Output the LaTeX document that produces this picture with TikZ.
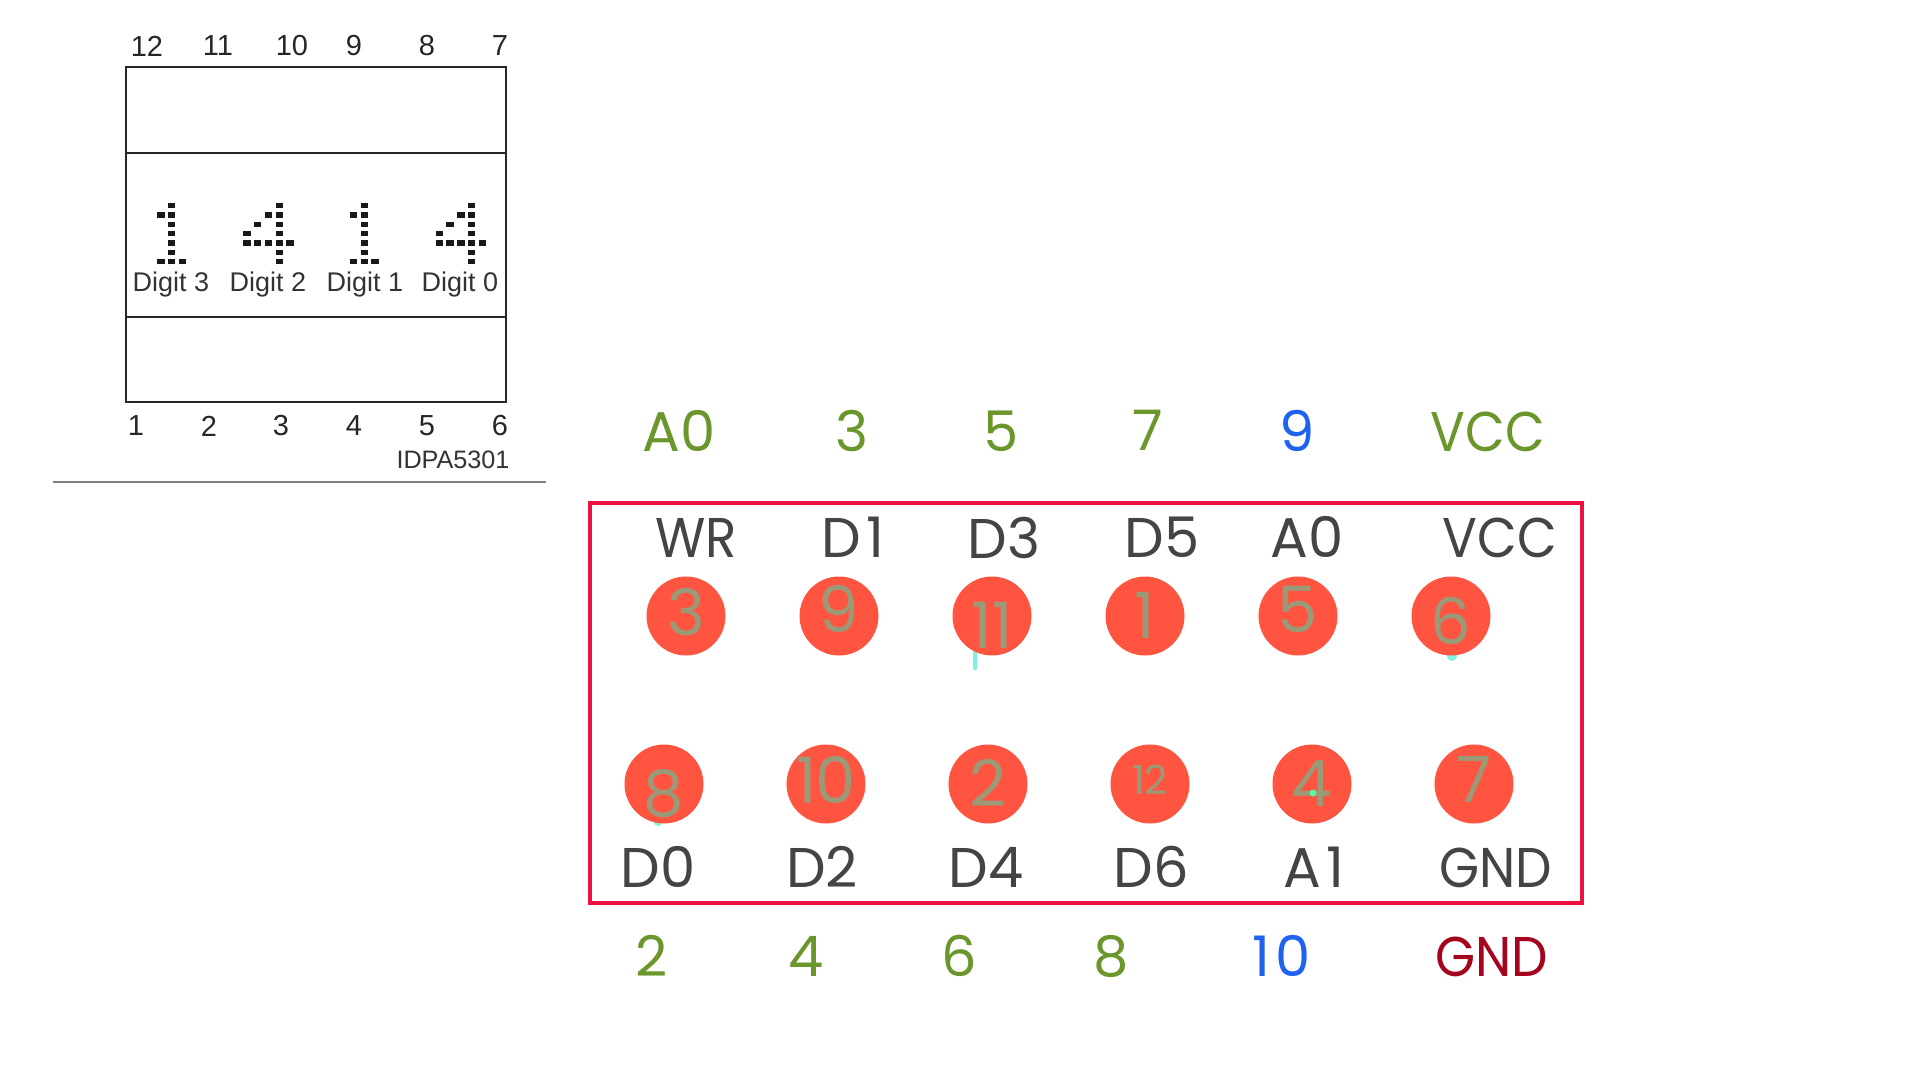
\documentclass[tikz,border=0pt]{standalone}
\usepackage{fontspec}
\setmainfont{Liberation Sans}
\newfontfamily\pinfont{Poppins}
\newfontfamily\pinnarrow[FakeStretch=0.92]{Poppins}
\usepackage{xcolor}
\usepackage{tikz}
\usetikzlibrary{positioning}
\definecolor{framered}{HTML}{EE1041}
\definecolor{pinred}{HTML}{FF5540}
\definecolor{pinink}{HTML}{9A9A78}
\definecolor{wiregreen}{HTML}{6A962C}
\definecolor{wireblue}{HTML}{1F62F0}
\definecolor{wirered}{HTML}{A5041E}
\definecolor{signalgrey}{HTML}{444444}
\definecolor{tailcyan}{HTML}{80F0E0}

\begin{document}
\begin{tikzpicture}[
  x=0.5pt, y=-0.5pt,
  pn/.style={font=\fontsize{14.5}{16}\selectfont, text=black!85, inner sep=0pt},
  dg/.style={font=\fontsize{13.5}{15}\selectfont, text=black!80, inner sep=0pt},
  sig/.style={font=\pinfont\fontsize{28}{30}\selectfont, text=signalgrey, inner sep=0pt, text height=20.5pt, text depth=0pt},
  sign/.style={sig, font=\pinnarrow\fontsize{28}{30}\selectfont},
  wire/.style={sig, text=wiregreen},
  wireb/.style={sig, text=wireblue},
  wiren/.style={sign, text=wiregreen},
  wirer/.style={sign, text=wirered},
  pin/.style={circle, fill=pinred, minimum size=39.5pt, inner sep=0pt, outer sep=0pt, text=pinink, text height=22.4pt, text depth=0pt, font=\pinfont\fontsize{32}{34}\selectfont},
  pint/.style={pin, text height=14pt, font=\pinfont\fontsize{20}{22}\selectfont},
  dot/.style={fill=black!90},
  digone/.pic={
    \foreach \r in {0,...,6} \fill[dot] (-3.75,{\r*9.33-2.75}) rectangle ++(7.5,5.5);
    \fill[dot] (-14.55,{9.33-2.75}) rectangle ++(7.5,5.5);
    \fill[dot] (-14.55,{6*9.33-2.75}) rectangle ++(7.5,5.5);
    \fill[dot] (7.05,{6*9.33-2.75}) rectangle ++(7.5,5.5);
  },
  digfour/.pic={
    \foreach \r in {0,...,6} \fill[dot] (-3.75,{\r*9.33-2.75}) rectangle ++(7.5,5.5);
    \fill[dot] (-14.55,{9.33-2.75}) rectangle ++(7.5,5.5);
    \fill[dot] (-25.35,{2*9.33-2.75}) rectangle ++(7.5,5.5);
    \fill[dot] (-36.15,{3*9.33-2.75}) rectangle ++(7.5,5.5);
    \foreach \c in {-3,-2,-1,1} \fill[dot] ({\c*10.8-3.75},{4*9.33-2.75}) rectangle ++(7.5,5.5);
  }
]
\useasboundingbox (0,0) rectangle (1912,1072);

% display outline
\draw[line width=1.4pt, black!85] (126,67) rectangle (506,402);
\draw[line width=1.3pt, black!85] (126,153) -- (506,153);
\draw[line width=1.3pt, black!85] (126,317) -- (506,317);
\draw[line width=0.7pt, black!50] (53,482) -- (546,482);

\node[pn] (p12) at (147,46) {12};
\node[pn] (p11) at (218,46) {11};
\node[pn] (p10) at (292,46) {10};
\node[pn] (p9) at (354,46) {9};
\node[pn] (p8) at (427,46) {8};
\node[pn] (p7) at (500,46) {7};
\node[pn] (p1) at (136,426) {1};
\node[pn] (p2) at (209,426) {2};
\node[pn] (p3) at (281,426) {3};
\node[pn] (p4) at (354,426) {4};
\node[pn] (p5) at (427,426) {5};
\node[pn] (p6) at (500,426) {6};
\node[font=\fontsize{12.6}{14}\selectfont, text=black!80, inner sep=0pt] (part) at (453,460) {IDPA5301};

\pic at (171.7,205.7) {digone};
\pic at (279.3,205.7) {digfour};
\pic at (364.3,205.7) {digone};
\pic at (471.7,205.7) {digfour};
\node[dg] (d3) at (171,285) {Digit 3};
\node[dg] (d2) at (268,285) {Digit 2};
\node[dg] (d1) at (365,285) {Digit 1};
\node[dg] (d0) at (460,285) {Digit 0};

% connector frame
\draw[line width=1.8pt, framered] (590,503) rectangle (1582,903);

\node[wire] (w1) at (679,431) {A0};
\node[wire] (w3) at (852,431) {3};
\node[wire] (w5) at (1001,431) {5};
\node[wire] (w7) at (1148,430) {7};
\node[wireb] (w9) at (1297,431) {9};
\node[wiren] (wv) at (1488,431) {VCC};
\node[wire] (w2) at (652,956) {2};
\node[wire] (w4) at (806,956) {4};
\node[wire] (w6) at (959,956) {6};
\node[wire] (w8) at (1111,956) {8};
\node[wireb] (w10) at (1282,956) {1\kern2.5pt 0};
\node[wirer] (wg) at (1492,956) {GND};

\node[sign] (swr) at (696,537) {WR};
\node[sig] (sd1) at (853,537) {D\kern2.5pt 1};
\node[sig] (sd3) at (1004,538) {D3};
\node[sig] (sd5) at (1162,537) {D5};
\node[sig] (sa0) at (1307,537) {A0};
\node[sign] (svcc) at (1500,537) {VCC};
\node[sig] (sd0) at (658,867) {D0};
\node[sig] (sd2) at (822,867) {D2};
\node[sig] (sd4) at (986,867) {D4};
\node[sig] (sd6) at (1151,867) {D6};
\node[sig] (sa1) at (1314,867) {A\kern2.5pt 1};
\node[sign] (sgnd) at (1496,867) {GND};

% stray pen marks
\draw[line width=2.4pt, tailcyan, line cap=round] (975,650) -- (975,668);
\fill[tailcyan] (1452,656) circle (5);
\fill[tailcyan] (658,822) circle (4);

\node[pin] (c3) at (686,616) {\raisebox{1.5pt}{3}};
\node[pin] (c9) at (839,616) {\raisebox{3pt}{9}};
\node[pin] (c11) at (992,616) {\raisebox{-5pt}{11}};
\node[pin] (c1) at (1145,616) {1};
\node[pin] (c5) at (1298,616) {\raisebox{3pt}{5}};
\node[pin] (c6) at (1451,616) {\raisebox{-3pt}{6}};
\node[pin] (c8) at (664,784) {\raisebox{-5pt}{8}};
\node[pin] (c10) at (826,784) {\raisebox{1.5pt}{1\kern-1pt 0}};
\node[pin] (c2) at (988,784) {2};
\node[pint] (c12) at (1150,784) {\raisebox{2pt}{12}};
\node[pin] (c4) at (1312,784) {4};
\node[pin] (c7) at (1474,784) {\raisebox{2pt}{7}};
\fill[tailcyan!70!green] (1313,793) circle (3.5);
\end{tikzpicture}
\end{document}
